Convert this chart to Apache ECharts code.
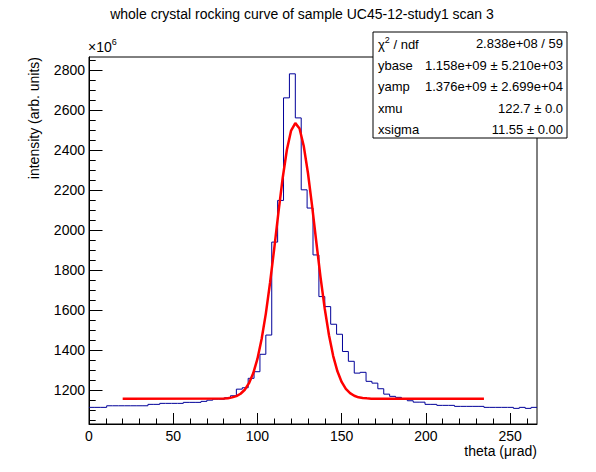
<!DOCTYPE html>
<html><head><meta charset="utf-8">
<script src="https://cdn.jsdelivr.net/npm/echarts@6/dist/echarts.min.js"></script>
<style>html,body{margin:0;padding:0;background:#fff}#c{width:596px;height:472px}</style>
</head><body><div id="c"></div>
<script>
const chartTitle = 'whole crystal rocking curve of sample UC45-12-study1 scan 3';
const xTitle = 'theta (\u03bcrad)';
const yTitle = 'intensity (arb. units)';
const yMultiplier = '\u00d710';
const yExponent = '6';

// histogram binning (theta, µrad)
const binWidth = 3.5;
const thetaMin = 0;
const thetaMax = 266;
// visible intensity range (x10^6)
const intensityMin = 1032;
const intensityMax = 2864;

// histogram contents per bin (x10^6 arb. units)
const counts = [
  1115, 1115, 1115, 1123, 1123, 1123, 1123, 1123, 1123, 1123,
  1130, 1130, 1135, 1135, 1135, 1135, 1140, 1140, 1140, 1145,
  1151, 1156, 1156, 1163, 1173, 1206, 1213, 1260, 1293, 1380,
  1476, 1940, 2148, 2660, 2780, 2560, 2201, 2110, 1876, 1668,
  1618, 1530, 1480, 1394, 1345, 1286, 1290, 1245, 1236, 1208,
  1181, 1170, 1165, 1158, 1148, 1141, 1141, 1130, 1130, 1125,
  1125, 1125, 1120, 1120, 1120, 1120, 1120, 1115, 1115, 1115,
  1115, 1115, 1110, 1115, 1110, 1115
];

// fitted gaussian curve
const fitTheta = [20, 80, 82.5, 85, 87.5, 90, 92.5, 95, 97.5, 100,
  102.5, 105, 107.5, 110, 112.5, 115, 117.5, 120, 122.5,
  125, 127.5, 130, 132.5, 135, 137.5, 140, 142.5, 145, 147.5,
  150, 152.5, 155, 157.5, 160, 162.5, 165, 167.5, 170, 234.5];
const fitValue = [1158, 1159.5, 1161, 1165, 1171, 1183, 1203, 1236, 1285, 1357,
  1456, 1583, 1737, 1909, 2090, 2260, 2401, 2497, 2534,
  2507, 2420, 2285, 2118, 1938, 1763, 1606, 1475, 1371, 1295,
  1242, 1207, 1186, 1173, 1165, 1162, 1160, 1158.5, 1158, 1158];

const xMajorTicks = [0, 50, 100, 150, 200, 250];
const xMinorTicks = [10, 20, 30, 40, 60, 70, 80, 90, 110, 120, 130, 140, 160, 170, 180, 190, 210, 220, 230, 240, 260];
const yMajorTicks = [1200, 1400, 1600, 1800, 2000, 2200, 2400, 2600, 2800];
const yMinorTicks = [1050, 1100, 1150, 1250, 1300, 1350, 1450, 1500, 1550, 1650, 1700, 1750,
  1850, 1900, 1950, 2050, 2100, 2150, 2250, 2300, 2350, 2450, 2500, 2550, 2650, 2700, 2750, 2850];

const statNames = ['{n|\u03c7}{sup|2}{n| / ndf}', 'ybase', 'yamp', 'xmu', 'xsigma'];
const statValues = ['2.838e+08 / 59', '1.158e+09 \u00b1 5.210e+03', '1.376e+09 \u00b1 2.699e+04', '122.7 \u00b1 0.0', '11.55 \u00b1 0.00'];

const FONT = 'Liberation Sans';
const histData = counts.map((v, i) => [thetaMin + i * binWidth, v]);
histData.push([thetaMax, counts[counts.length - 1]]);
const fitData = fitTheta.map((t, i) => [t, fitValue[i]]);

const chart = echarts.init(document.getElementById('c'), null, {renderer: 'svg'});

const grid = {left: 89, right: 59, top: 57, bottom: 48};
const statBox = {x: 373, y: 32, w: 194, h: 106};
const rowY = [43, 65, 86, 108, 129];

const graphics = [
  {type: 'text', z: 100, x: 302, y: 14,
    style: {text: chartTitle, align: 'center', verticalAlign: 'middle', font: '14px ' + FONT, fill: '#000'}},
  {type: 'text', z: 100, x: 537, y: 451,
    style: {text: xTitle, align: 'right', verticalAlign: 'middle', font: '14px ' + FONT, fill: '#000'}},
  {type: 'text', z: 100, x: 34, y: 57, rotation: Math.PI / 2,
    style: {text: yTitle, align: 'right', verticalAlign: 'middle', font: '14px ' + FONT, fill: '#000'}},
  {type: 'text', z: 100, x: 88, y: 54,
    style: {text: '{n|' + yMultiplier + '}{sup|' + yExponent + '}', align: 'left', verticalAlign: 'bottom',
      rich: {n: {fontSize: 14, fontFamily: FONT, fill: '#000', verticalAlign: 'bottom'},
             sup: {fontSize: 9, fontFamily: FONT, fill: '#000', padding: [0, 0, 8, 0], verticalAlign: 'bottom'}}}},
  {type: 'rect', z: 100, shape: {x: statBox.x, y: statBox.y, width: statBox.w, height: statBox.h},
    style: {fill: '#fff', stroke: '#000', lineWidth: 1}}
];
statNames.forEach((n, i) => {
  graphics.push({type: 'text', z: 101, x: 378, y: rowY[i],
    style: {text: n, align: 'left', verticalAlign: 'middle', font: '13px ' + FONT, fill: '#000',
      rich: {n: {fontSize: 13, fontFamily: FONT, fill: '#000', verticalAlign: 'bottom'},
             sup: {fontSize: 9, fontFamily: FONT, fill: '#000', padding: [0, 0, 6, 0], verticalAlign: 'bottom'}}}});
  graphics.push({type: 'text', z: 101, x: 563, y: rowY[i],
    style: {text: statValues[i], align: 'right', verticalAlign: 'middle', font: '13px ' + FONT, fill: '#000'}});
});

const axisLabelStyle = {color: '#000', fontSize: 14, fontFamily: FONT, formatter: v => String(v)};

chart.setOption({
  animation: false,
  backgroundColor: '#fff',
  grid: Object.assign({show: true, borderColor: '#000', borderWidth: 1, backgroundColor: 'transparent'}, grid),
  xAxis: [
    {type: 'value', min: thetaMin, max: thetaMax, position: 'bottom',
      axisLine: {show: true, onZero: false, lineStyle: {color: '#000', width: 1}},
      axisTick: {show: true, inside: true, length: 11, customValues: xMajorTicks, lineStyle: {color: '#000'}},
      axisLabel: Object.assign({show: true, margin: 5, customValues: xMajorTicks}, axisLabelStyle),
      splitLine: {show: false}},
    {type: 'value', min: thetaMin, max: thetaMax, position: 'bottom', offset: 0,
      axisLine: {show: false, onZero: false},
      axisTick: {show: true, inside: true, length: 5.5, customValues: xMinorTicks, lineStyle: {color: '#000'}},
      axisLabel: {show: false}, splitLine: {show: false}}
  ],
  yAxis: [
    {type: 'value', min: intensityMin, max: intensityMax, position: 'left',
      axisLine: {show: true, onZero: false, lineStyle: {color: '#000', width: 1}},
      axisTick: {show: true, inside: true, length: 13.5, customValues: yMajorTicks, lineStyle: {color: '#000'}},
      axisLabel: Object.assign({show: true, margin: 4, customValues: yMajorTicks}, axisLabelStyle),
      splitLine: {show: false}},
    {type: 'value', min: intensityMin, max: intensityMax, position: 'left', offset: 0,
      axisLine: {show: false, onZero: false},
      axisTick: {show: true, inside: true, length: 6.7, customValues: yMinorTicks, lineStyle: {color: '#000'}},
      axisLabel: {show: false}, splitLine: {show: false}}
  ],
  series: [
    {type: 'line', name: 'histogram', data: histData, step: 'end', symbol: 'none',
      xAxisIndex: 0, yAxisIndex: 0, clip: true,
      lineStyle: {color: '#000099', width: 1}, z: 3},
    {type: 'line', name: 'fit', data: fitData, symbol: 'none', smooth: false,
      xAxisIndex: 0, yAxisIndex: 0, clip: true,
      lineStyle: {color: '#ff0000', width: 2.5}, z: 4}
  ],
  graphic: graphics
});
</script>
</body></html>
